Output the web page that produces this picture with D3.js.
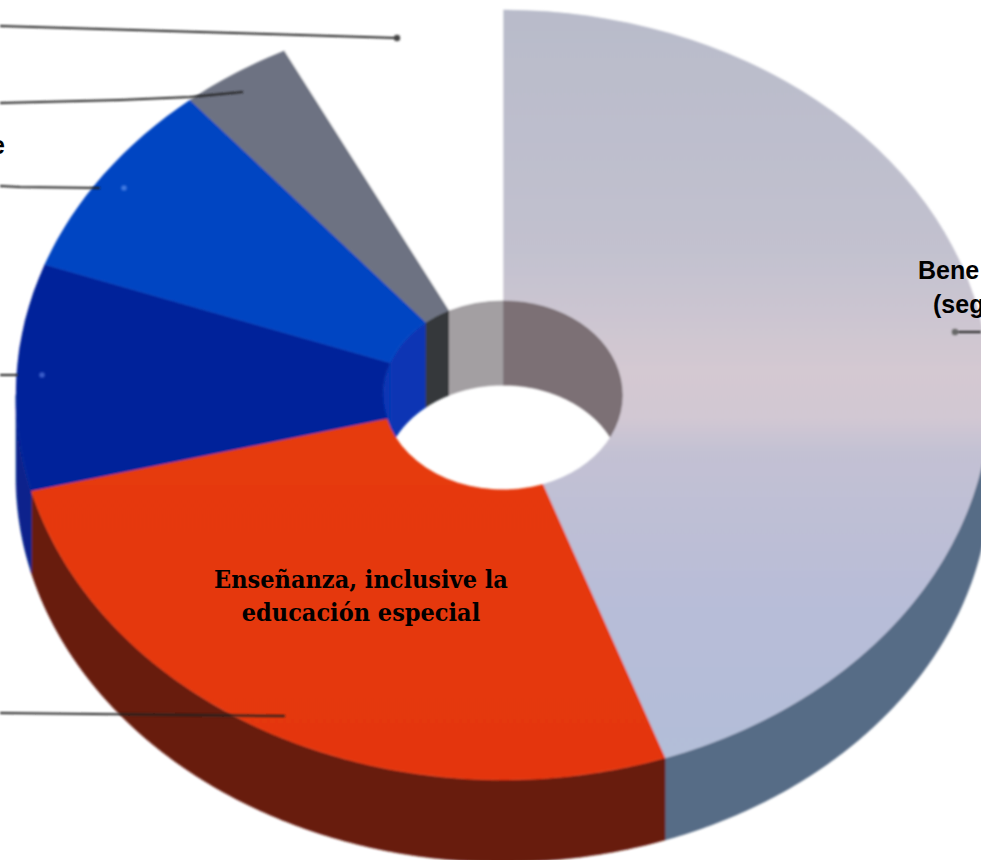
<!DOCTYPE html>
<html>
<head>
<meta charset="utf-8">
<style>
  html, body { margin: 0; padding: 0; background: #fff; overflow: hidden; }
  svg { display: block; }
</style>
</head>
<body>
<div class="chart"></div>
<script src="https://cdn.jsdelivr.net/npm/d3@7"></script>
<script>
// DATA-------------------------
const categories = ['Bene (seg', 'Enseñanza', 'Azul oscuro', 'Azul', 'Gris', 'Sin sector'];
const values = [44.6, 26.4, 9.5, 8.4, 3.7, 7.4];

// STYLES-----------------------
const faceColors = ['url(#lightFace)', 'url(#redFace)', '#03209a', '#0644c2', '#6d7282', '#fff'];
const outerWallColors = ['#566c86', '#671a0d', '#07218c', '#07218c', '#555', '#fff'];
const innerWallColors = ['#7b7074', '#7b7074', '#0736b4', '#0736b4', '#34383a', '#a39fa2'];

// CHART INIT-------------------
const width = 981;
const height = 860;
const cx = 503;
const cy = 395;
const rx = 487;
const rxHole = 120;
const squash = 385 / 487;
const depth = 82;
const holeDepth = 85;

const svg = d3.select('.chart')
    .append('svg')
    .attr('width', width)
    .attr('height', height);

const defs = svg.append('defs');

defs.append('filter')
    .attr('id', 'scan')
    .attr('x', '-5%').attr('y', '-5%').attr('width', '110%').attr('height', '110%')
    .append('feGaussianBlur')
    .attr('stdDeviation', 0.8);

// face gradients run top to bottom of the page, y is in the pie's squashed units
function gradient(id, stops) {
    const g = defs.append('linearGradient')
        .attr('id', id)
        .attr('gradientUnits', 'userSpaceOnUse')
        .attr('x1', 0).attr('y1', -cy / squash)
        .attr('x2', 0).attr('y2', 385 / squash);
    stops.forEach(s => g.append('stop').attr('offset', s[0]).attr('stop-color', s[1]));
}
gradient('lightFace', [[0, '#b8bbca'], [0.32, '#c2c1cf'], [0.474, '#d4c9d2'], [0.535, '#d2c8d3'], [0.58, '#c3c1d3'], [0.77, '#b8bdd8'], [1, '#b2bed8']]);
gradient('redFace', [[0, '#e8400c'], [1, '#e4360e']]);

const chart = svg.append('g')
    .attr('filter', 'url(#scan)')
    .attr('transform', `translate(${cx},${cy})`);

// PIE--------------------------
const slices = d3.pie().sort(null)(values);
const arc = d3.arc().innerRadius(rxHole).outerRadius(rx);

// a wall is the strip under an arc between two angles
function wall(radius, drop, start, end) {
    const steps = d3.range(start, end, 0.01).concat(end);
    return d3.area()
        .x(a => radius * Math.sin(a))
        .y0(a => -radius * squash * Math.cos(a))
        .y1(a => -radius * squash * Math.cos(a) + drop)(steps);
}

// the hole wall only shows on the back half, the outside wall on the front half
const tau = 2 * Math.PI;
slices.forEach((s, i) => {
    [[s.startAngle, Math.min(s.endAngle, tau / 4)], [Math.max(s.startAngle, 3 * tau / 4), s.endAngle]]
        .filter(r => r[1] > r[0])
        .forEach(r => {
            chart.append('path')
                .attr('d', wall(rxHole, holeDepth, r[0], r[1]))
                .attr('fill', innerWallColors[i])
                .attr('stroke', innerWallColors[i])
                .attr('stroke-width', 0.5);
        });
});

slices.forEach((s, i) => {
    const a0 = Math.max(s.startAngle, tau / 4);
    const a1 = Math.min(s.endAngle, 3 * tau / 4);
    if (a1 > a0) {
        chart.append('path')
            .attr('d', wall(rx, depth, a0, a1))
            .attr('fill', outerWallColors[i])
            .attr('stroke', outerWallColors[i])
            .attr('stroke-width', 0.5);
    }
});

chart.selectAll('.face')
    .data(slices)
    .enter()
    .append('path')
    .attr('class', 'face')
    .attr('d', arc)
    .attr('transform', `scale(1,${squash})`)
    .attr('fill', (d, i) => faceColors[i])
    .attr('stroke', (d, i) => faceColors[i])
    .attr('stroke-width', 0.6);

// LEADER LINES-----------------
const leaders = [
    [[0, 26], [200, 32], [397, 38]],
    [[0, 103], [120, 100], [190, 97], [243, 92]],
    [[0, 186], [20, 187], [100, 188]],
    [[0, 375], [18, 375]],
    [[0, 713], [285, 716]],
    [[955, 332], [981, 332]]
];
const page = svg.append('g').attr('filter', 'url(#scan)');
const line = d3.line();
page.selectAll('.leader')
    .data(leaders)
    .enter()
    .append('path')
    .attr('class', 'leader')
    .attr('d', line)
    .attr('fill', 'none')
    .attr('stroke', '#222')
    .attr('stroke-width', 2);

page.selectAll('.tip')
    .data([[397, 38, '#444', 3.2], [955, 332, '#666', 3.2], [124, 188, '#3f78e0', 2.8], [42, 375, '#3a5cc8', 2.8]])
    .enter()
    .append('circle')
    .attr('cx', d => d[0])
    .attr('cy', d => d[1])
    .attr('r', d => d[3])
    .attr('fill', d => d[2]);

// TEXT-------------------------
const serif = svg.append('g')
    .attr('font-family', '"DejaVu Serif Condensed", "DejaVu Serif", serif')
    .attr('font-weight', 'bold')
    .attr('font-size', 25)
    .attr('text-anchor', 'middle')
    .attr('fill', '#000');
serif.append('text').attr('x', 361).attr('y', 587.5).text('Enseñanza, inclusive la');
serif.append('text').attr('x', 361).attr('y', 621).text('educación especial');

const sans = svg.append('g')
    .attr('font-family', '"Liberation Sans", Arial, sans-serif')
    .attr('font-weight', 'bold')
    .attr('font-size', 25)
    .attr('fill', '#000');
sans.append('text').attr('x', 918).attr('y', 279).text('Bene');
sans.append('text').attr('x', 933).attr('y', 313).text('(seg');
sans.append('text').attr('x', 5).attr('y', 154).attr('text-anchor', 'end').text('e');
</script>
</body>
</html>
